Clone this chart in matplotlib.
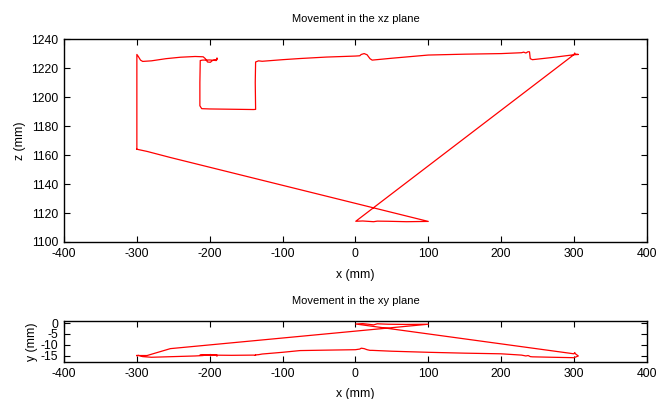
import matplotlib
matplotlib.use("Agg")
import matplotlib.pyplot as plt

plt.rcParams["font.family"] = ["Liberation Sans", "DejaVu Sans"]
plt.rcParams["axes.unicode_minus"] = False

# trajectory waypoints (mm)
path_x = [-300, -300, -300, -298, -295, -292, -280, -260, -240, -220, -209, -206, -203, -199,
          -197, -194, -190, -190, -191, -200, -210, -213, -213.5, -213.5, -211, -200, -170,
          -140, -137, -137.5, -137, -133, -128, -100, -76, -40, 0, 6, 8, 12, 16, 20, 23, 50,
          100, 150, 200, 228, 231, 234, 237, 239, 240, 243, 270, 300, 306, 302, 301, 300,
          0.5, 10, 25, 30, 45, 70, 100, -254, -286, -300]
path_y = [-15.0, -15.0, -15.1, -14.9, -15.2, -15.5, -15.8, -15.6, -15.4, -15.2, -15.0, -14.6,
          -14.8, -14.5, -15.0, -14.6, -14.8, -15.3, -14.7, -14.6, -14.7, -14.8, -14.8, -14.9,
          -14.9, -14.8, -14.9, -14.8, -14.9, -14.8, -14.7, -14.6, -14.3, -13.5, -12.7, -12.5,
          -12.3, -12.0, -11.6, -11.8, -12.3, -12.6, -12.6, -13.0, -13.5, -13.9, -14.2, -14.8,
          -15.0, -15.2, -15.0, -15.3, -15.5, -15.6, -15.8, -16.0, -15.2, -14.2, -13.6, -14.2,
          -0.4, -0.2, -0.8, -0.3, -0.5, -0.6, -0.5, -11.8, -15.0, -15.0]
path_z = [1164, 1200, 1229.4, 1228, 1225.5, 1224.6, 1225, 1226.5, 1227.5, 1228, 1227.8, 1226.5,
          1224.2, 1224.0, 1225.0, 1225.6, 1225.8, 1227, 1225.2, 1225.6, 1225.5, 1225.2, 1210,
          1194, 1192.0, 1191.8, 1191.6, 1191.4, 1191.5, 1210, 1224.2, 1225.0, 1224.7, 1225.8,
          1226.6, 1227.6, 1228.3, 1228.5, 1229.4, 1230.0, 1229.2, 1226.5, 1225.5, 1226.8,
          1229.0, 1229.6, 1230.0, 1230.6, 1231.0, 1230.4, 1231.3, 1231.2, 1226.5, 1225.8,
          1227.3, 1229.2, 1229.4, 1229.6, 1230.4, 1229.3, 1114.3, 1114.5, 1114.0, 1114.4,
          1114.3, 1114.0, 1114.2, 1158.3, 1162.5, 1164]

x_ticks = [-400, -300, -200, -100, 0, 100, 200, 300, 400]
z_ticks = [1100, 1120, 1140, 1160, 1180, 1200, 1220, 1240]
y_ticks = [0, -5, -10, -15]

FS = 8.8


def style(ax):
    ax.tick_params(direction="in", top=True, right=True, length=4, width=0.8,
                   labelsize=FS, pad=4)
    for s in ax.spines.values():
        s.set_linewidth(1.0)


fig = plt.figure(figsize=(6.6, 3.99), dpi=100)

ax1 = fig.add_axes([0.097, 0.3935, 0.883, 0.5085])
ax1.plot(path_x, path_z, color="red", lw=0.9)
ax1.set_xlim(-400, 400)
ax1.set_ylim(1100, 1240)
ax1.set_xticks(x_ticks)
ax1.set_yticks(z_ticks)
ax1.set_title("Movement in the xz plane", fontsize=8, pad=12)
ax1.set_xlabel("x (mm)", fontsize=FS, labelpad=7)
ax1.set_ylabel("z (mm)", fontsize=FS, labelpad=4)
style(ax1)

ax2 = fig.add_axes([0.097, 0.0927, 0.883, 0.1028])
ax2.plot(path_x, path_y, color="red", lw=0.9)
ax2.set_xlim(-400, 400)
ax2.set_ylim(-18, 1)
ax2.set_xticks(x_ticks)
ax2.set_yticks(y_ticks)
ax2.set_title("Movement in the xy plane", fontsize=8, pad=12)
ax2.set_xlabel("x (mm)", fontsize=FS, labelpad=6)
ax2.set_ylabel("y (mm)", fontsize=FS, labelpad=2)
style(ax2)

fig.savefig("out.png", dpi=100)
